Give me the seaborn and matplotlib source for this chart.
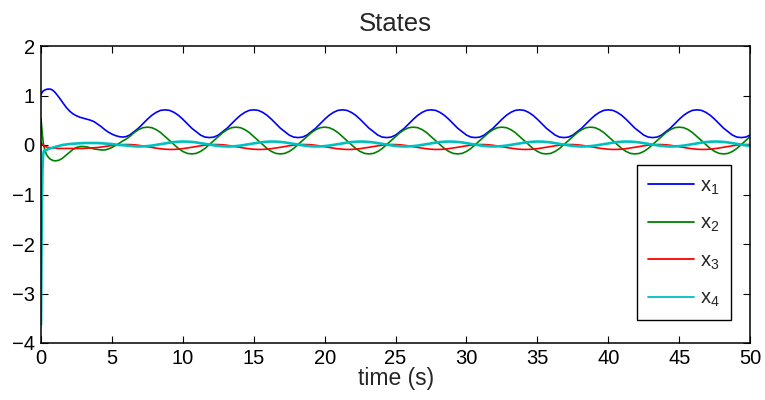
import numpy as np
import pandas as pd
import seaborn as sb
import matplotlib
matplotlib.use("Agg")
import matplotlib.pyplot as plt

# time samples (s): dense during the start-up transient, then 0.3125 s steps
t = [0, 0.05, 0.1, 0.15, 0.2, 0.3, 0.4, 0.5, 0.625, 0.75, 0.875, 1.0, 1.25, 1.5, 1.75, 2.0,
     2.25, 2.5, 2.75, 3.0, 3.25, 3.5, 3.75, 4.0, 4.25, 4.5, 4.75, 5.0, 5.25, 5.5, 5.75, 6.0,
     6.25, 6.5625, 6.875, 7.1875, 7.5, 7.8125, 8.125, 8.4375, 8.75, 9.0625,
     9.375, 9.6875, 10.0, 10.3125, 10.625, 10.9375, 11.25, 11.5625, 11.875, 12.1875,
     12.5, 12.8125, 13.125, 13.4375, 13.75, 14.0625, 14.375, 14.6875, 15.0, 15.3125,
     15.625, 15.9375, 16.25, 16.5625, 16.875, 17.1875, 17.5, 17.8125, 18.125, 18.4375,
     18.75, 19.0625, 19.375, 19.6875, 20.0, 20.3125, 20.625, 20.9375, 21.25, 21.5625,
     21.875, 22.1875, 22.5, 22.8125, 23.125, 23.4375, 23.75, 24.0625, 24.375, 24.6875,
     25.0, 25.3125, 25.625, 25.9375, 26.25, 26.5625, 26.875, 27.1875, 27.5, 27.8125,
     28.125, 28.4375, 28.75, 29.0625, 29.375, 29.6875, 30.0, 30.3125, 30.625, 30.9375,
     31.25, 31.5625, 31.875, 32.1875, 32.5, 32.8125, 33.125, 33.4375, 33.75, 34.0625,
     34.375, 34.6875, 35.0, 35.3125, 35.625, 35.9375, 36.25, 36.5625, 36.875, 37.1875,
     37.5, 37.8125, 38.125, 38.4375, 38.75, 39.0625, 39.375, 39.6875, 40.0, 40.3125,
     40.625, 40.9375, 41.25, 41.5625, 41.875, 42.1875, 42.5, 42.8125, 43.125, 43.4375,
     43.75, 44.0625, 44.375, 44.6875, 45.0, 45.3125, 45.625, 45.9375, 46.25, 46.5625,
     46.875, 47.1875, 47.5, 47.8125, 48.125, 48.4375, 48.75, 49.0625, 49.375, 49.6875,
     50.0]

x1 = [1.02, 1.05, 1.07, 1.09, 1.10, 1.115, 1.125, 1.13, 1.13, 1.12, 1.095, 1.06, 0.97, 0.87, 0.77, 0.69,
      0.63, 0.59, 0.56, 0.54, 0.52, 0.50, 0.47, 0.42, 0.37, 0.31, 0.26, 0.22, 0.19, 0.17, 0.16, 0.17,
      0.20, 0.27, 0.34, 0.43, 0.52, 0.60, 0.66, 0.70, 0.71, 0.70, 0.66, 0.60, 0.52, 0.43, 0.34, 0.27, 0.20, 0.16, 0.15, 0.16,
      0.20, 0.27, 0.34, 0.43, 0.52, 0.60, 0.66, 0.70, 0.71, 0.70, 0.66, 0.60, 0.52, 0.43, 0.34, 0.27, 0.20, 0.16, 0.15, 0.16,
      0.20, 0.27, 0.34, 0.43, 0.52, 0.60, 0.66, 0.70, 0.71, 0.70, 0.66, 0.60, 0.52, 0.43, 0.34, 0.27, 0.20, 0.16, 0.15, 0.16,
      0.20, 0.27, 0.34, 0.43, 0.52, 0.60, 0.66, 0.70, 0.71, 0.70, 0.66, 0.60, 0.52, 0.43, 0.34, 0.27, 0.20, 0.16, 0.15, 0.16,
      0.20, 0.27, 0.34, 0.43, 0.52, 0.60, 0.66, 0.70, 0.71, 0.70, 0.66, 0.60, 0.52, 0.43, 0.34, 0.27, 0.20, 0.16, 0.15, 0.16,
      0.20, 0.27, 0.34, 0.43, 0.52, 0.60, 0.66, 0.70, 0.71, 0.70, 0.66, 0.60, 0.52, 0.43, 0.34, 0.27, 0.20, 0.16, 0.15, 0.16,
      0.20, 0.27, 0.34, 0.43, 0.52, 0.60, 0.66, 0.70, 0.71, 0.70, 0.66, 0.60, 0.52, 0.43, 0.34, 0.27, 0.20, 0.16, 0.15, 0.16,
      0.20]

x2 = [0.53, 0.36, 0.20, 0.07, -0.02, -0.13, -0.20, -0.24, -0.28, -0.30, -0.315, -0.32, -0.31, -0.27, -0.21, -0.15,
      -0.09, -0.05, -0.03, -0.03, -0.04, -0.06, -0.08, -0.09, -0.10, -0.10, -0.08, -0.05, -0.01, 0.03, 0.08, 0.12,
      0.17, 0.25, 0.31, 0.35, 0.36, 0.35, 0.31, 0.25, 0.17, 0.09, 0.01, -0.07, -0.13, -0.17, -0.18, -0.17, -0.13, -0.07, 0.01, 0.09,
      0.17, 0.25, 0.31, 0.35, 0.36, 0.35, 0.31, 0.25, 0.17, 0.09, 0.01, -0.07, -0.13, -0.17, -0.18, -0.17, -0.13, -0.07, 0.01, 0.09,
      0.17, 0.25, 0.31, 0.35, 0.36, 0.35, 0.31, 0.25, 0.17, 0.09, 0.01, -0.07, -0.13, -0.17, -0.18, -0.17, -0.13, -0.07, 0.01, 0.09,
      0.17, 0.25, 0.31, 0.35, 0.36, 0.35, 0.31, 0.25, 0.17, 0.09, 0.01, -0.07, -0.13, -0.17, -0.18, -0.17, -0.13, -0.07, 0.01, 0.09,
      0.17, 0.25, 0.31, 0.35, 0.36, 0.35, 0.31, 0.25, 0.17, 0.09, 0.01, -0.07, -0.13, -0.17, -0.18, -0.17, -0.13, -0.07, 0.01, 0.09,
      0.17, 0.25, 0.31, 0.35, 0.36, 0.35, 0.31, 0.25, 0.17, 0.09, 0.01, -0.07, -0.13, -0.17, -0.18, -0.17, -0.13, -0.07, 0.01, 0.09,
      0.17, 0.25, 0.31, 0.35, 0.36, 0.35, 0.31, 0.25, 0.17, 0.09, 0.01, -0.07, -0.13, -0.17, -0.18, -0.17, -0.13, -0.07, 0.01, 0.09,
      0.17]

x3 = [0.05, 0.03, 0.01, 0.0, -0.02, -0.03, -0.04, -0.05, -0.055, -0.06, -0.063, -0.065, -0.07, -0.07, -0.07, -0.07,
      -0.07, -0.07, -0.07, -0.07, -0.065, -0.06, -0.055, -0.05, -0.04, -0.03, -0.02, -0.01, 0.0, 0.005, 0.008, 0.01,
      0.009, 0.004, -0.006, -0.019, -0.034, -0.049, -0.064, -0.076, -0.085, -0.09, -0.089, -0.084, -0.074, -0.061, -0.046, -0.031, -0.016, -0.004, 0.005, 0.01,
      0.009, 0.004, -0.006, -0.019, -0.034, -0.049, -0.064, -0.076, -0.085, -0.09, -0.089, -0.084, -0.074, -0.061, -0.046, -0.031, -0.016, -0.004, 0.005, 0.01,
      0.009, 0.004, -0.006, -0.019, -0.034, -0.049, -0.064, -0.076, -0.085, -0.09, -0.089, -0.084, -0.074, -0.061, -0.046, -0.031, -0.016, -0.004, 0.005, 0.01,
      0.009, 0.004, -0.006, -0.019, -0.034, -0.049, -0.064, -0.076, -0.085, -0.09, -0.089, -0.084, -0.074, -0.061, -0.046, -0.031, -0.016, -0.004, 0.005, 0.01,
      0.009, 0.004, -0.006, -0.019, -0.034, -0.049, -0.064, -0.076, -0.085, -0.09, -0.089, -0.084, -0.074, -0.061, -0.046, -0.031, -0.016, -0.004, 0.005, 0.01,
      0.009, 0.004, -0.006, -0.019, -0.034, -0.049, -0.064, -0.076, -0.085, -0.09, -0.089, -0.084, -0.074, -0.061, -0.046, -0.031, -0.016, -0.004, 0.005, 0.01,
      0.009, 0.004, -0.006, -0.019, -0.034, -0.049, -0.064, -0.076, -0.085, -0.09, -0.089, -0.084, -0.074, -0.061, -0.046, -0.031, -0.016, -0.004, 0.005, 0.01,
      0.009]

x4 = [-3.63, -1.6, -0.5, -0.2, -0.12, -0.11, -0.10, -0.08, -0.07, -0.06, -0.05, -0.04, -0.02, 0.0, 0.01, 0.02,
      0.025, 0.03, 0.035, 0.04, 0.04, 0.04, 0.04, 0.04, 0.035, 0.03, 0.025, 0.02, 0.01, 0.0, -0.005, -0.01,
      -0.019, -0.026, -0.03, -0.028, -0.022, -0.012, 0.002, 0.017, 0.032, 0.047, 0.059, 0.066, 0.07, 0.068, 0.062, 0.052, 0.038, 0.023, 0.008, -0.007,
      -0.019, -0.026, -0.03, -0.028, -0.022, -0.012, 0.002, 0.017, 0.032, 0.047, 0.059, 0.066, 0.07, 0.068, 0.062, 0.052, 0.038, 0.023, 0.008, -0.007,
      -0.019, -0.026, -0.03, -0.028, -0.022, -0.012, 0.002, 0.017, 0.032, 0.047, 0.059, 0.066, 0.07, 0.068, 0.062, 0.052, 0.038, 0.023, 0.008, -0.007,
      -0.019, -0.026, -0.03, -0.028, -0.022, -0.012, 0.002, 0.017, 0.032, 0.047, 0.059, 0.066, 0.07, 0.068, 0.062, 0.052, 0.038, 0.023, 0.008, -0.007,
      -0.019, -0.026, -0.03, -0.028, -0.022, -0.012, 0.002, 0.017, 0.032, 0.047, 0.059, 0.066, 0.07, 0.068, 0.062, 0.052, 0.038, 0.023, 0.008, -0.007,
      -0.019, -0.026, -0.03, -0.028, -0.022, -0.012, 0.002, 0.017, 0.032, 0.047, 0.059, 0.066, 0.07, 0.068, 0.062, 0.052, 0.038, 0.023, 0.008, -0.007,
      -0.019, -0.026, -0.03, -0.028, -0.022, -0.012, 0.002, 0.017, 0.032, 0.047, 0.059, 0.066, 0.07, 0.068, 0.062, 0.052, 0.038, 0.023, 0.008, -0.007,
      -0.019]

labels = [r"$\mathregular{x_1}$", r"$\mathregular{x_2}$", r"$\mathregular{x_3}$", r"$\mathregular{x_4}$"]
colors = ["#0000ff", "#008000", "#ff0000", "#00bfbf"]

sb.set_style("ticks")
plt.rcParams["font.family"] = ["Liberation Sans", "DejaVu Sans"]
plt.rcParams["mathtext.fontset"] = "custom"
plt.rcParams["mathtext.rm"] = "Liberation Sans"

# long form table for seaborn
n = len(t)
df = pd.DataFrame({
    "time": t * 4,
    "value": x1 + x2 + x3 + x4,
    "state": [labels[0]] * n + [labels[1]] * n + [labels[2]] * n + [labels[3]] * n,
})

fig = plt.figure(figsize=(7.65, 4.0), dpi=100)
ax = fig.add_axes([0.0536, 0.1425, 0.927, 0.7425])

sb.lineplot(data=df, x="time", y="value", hue="state", palette=colors,
            errorbar=None, ax=ax, linewidth=1.2)
# cyan trace looks heavier in the original
ax.get_lines()[3].set_linewidth(1.9)

ax.set_xlim(0, 50)
ax.set_ylim(-4, 2)
ax.set_xticks(np.arange(0, 51, 5))
ax.set_yticks(np.arange(-4, 3, 1))
ax.tick_params(direction="in", length=5, width=0.8, labelsize=14.5, pad=4.5,
               top=True, right=True, colors="black")
for s in ax.spines.values():
    s.set_linewidth(1.1)
    s.set_color("black")

ax.set_title("States", fontsize=18.5, pad=11)
ax.set_xlabel("time (s)", fontsize=16.5, labelpad=-1)
ax.set_ylabel("")

leg = ax.legend(loc="lower right", bbox_to_anchor=(0.973, 0.077), borderaxespad=0,
                fontsize=14.5, fancybox=False, edgecolor="black", framealpha=1,
                handlelength=2.3, labelspacing=0.85, borderpad=0.55, handletextpad=0.3)
leg.get_frame().set_linewidth(1.0)
for line in leg.get_lines():
    line.set_linewidth(1.3)

fig.savefig("out.png", dpi=100)
